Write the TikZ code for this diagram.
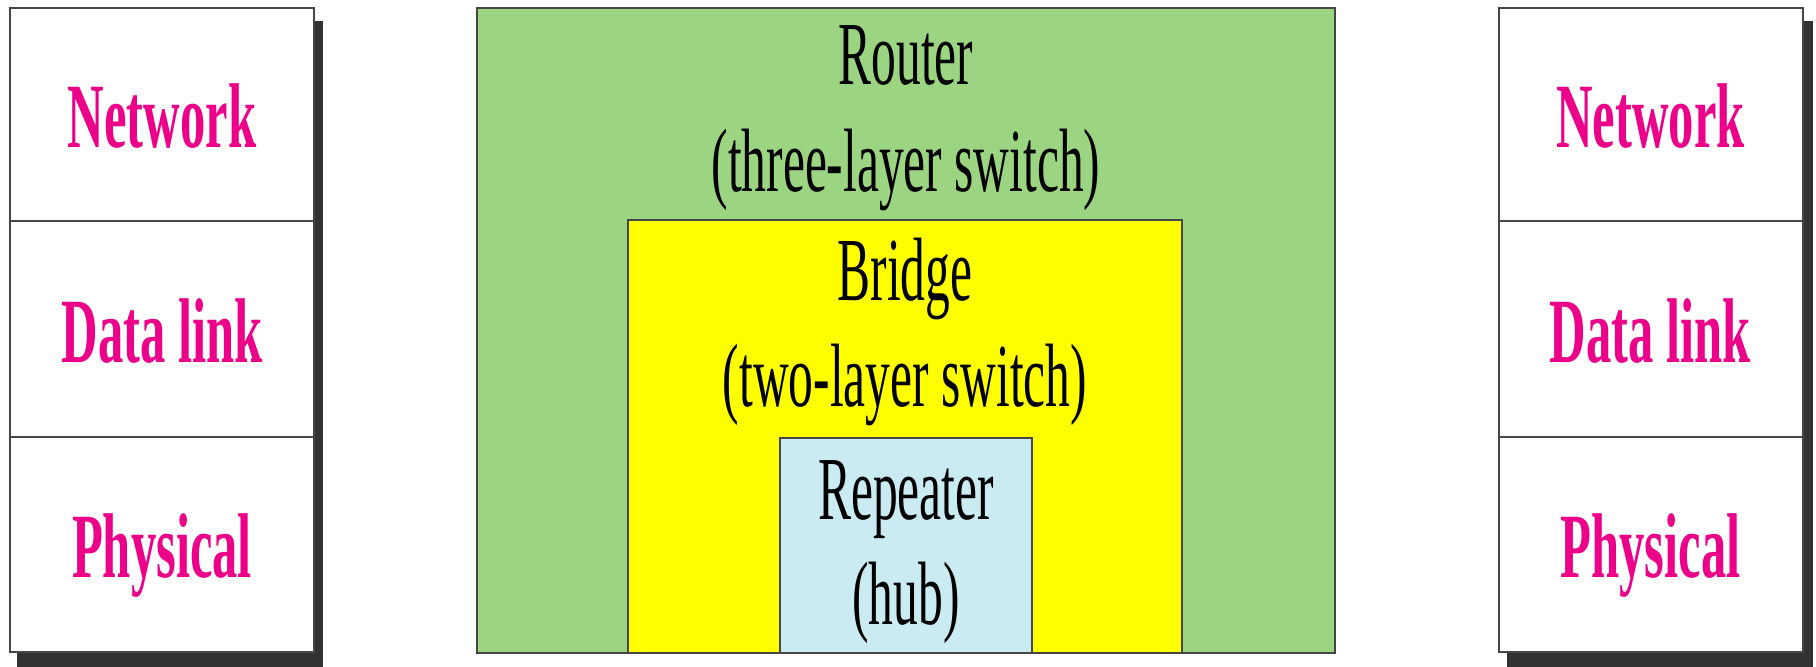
\documentclass[tikz,border=0pt]{standalone}
\usepackage{fontspec}
\setmainfont[FakeStretch=0.55]{Liberation Serif}
\definecolor{edge}{RGB}{70,70,70}
\definecolor{dropshadow}{RGB}{50,50,50}
\definecolor{layertext}{RGB}{236,0,138}
\definecolor{routerfill}{RGB}{155,213,129}
\definecolor{bridgefill}{RGB}{255,255,0}
\definecolor{hubfill}{RGB}{203,235,242}
\begin{document}
\begin{tikzpicture}[x=0.5pt,y=-0.5pt,
  layer/.style={draw=edge, line width=1pt, fill=white, inner sep=0pt,
    minimum width=152pt, text height=33.5pt, text depth=0pt,
    font=\fontsize{46}{53}\selectfont\bfseries, text=layertext},
  device/.style={draw=edge, line width=1pt, inner sep=0pt},
  lbl/.style={anchor=base, inner sep=0pt, font=\fontsize{45}{53}\selectfont}]
\useasboundingbox (0,0) rectangle (1816,667);

% drop shadows behind the two protocol stacks
\fill[dropshadow] (17,21) rectangle (323,667);
\fill[dropshadow] (1507,21) rectangle (1813,667);

% left protocol stack
\node[layer, minimum height=106.5pt] (lnet)  at (162,114.5) {Network};
\node[layer, minimum height=108pt]   (ldata) at (162,329)   {Data link};
\node[layer, minimum height=107.5pt] (lphy)  at (162,544.5) {Physical};

% right protocol stack
\node[layer, minimum height=106.5pt] (rnet)  at (1650.5,114.5) {Network};
\node[layer, minimum height=108pt]   (rdata) at (1650.5,329)   {Data link};
\node[layer, minimum height=107.5pt] (rphy)  at (1650.5,544.5) {Physical};

% nested connecting devices
\node[device, fill=routerfill, minimum width=429pt, minimum height=322.5pt] (router) at (906,330.5) {};
\node[device, fill=bridgefill, minimum width=277pt, minimum height=216.5pt] (bridge) at (905,436.5) {};
\node[device, fill=hubfill, minimum width=126pt, minimum height=107.5pt] (hub) at (906,545.5) {};

% device labels
\node[lbl] (routername) at (906,85)  {Router};
\node[lbl] (routernote) at (906,192) {(three-layer switch)};
\node[lbl] (bridgename) at (905,301) {Bridge};
\node[lbl] (bridgenote) at (905,407) {(two-layer switch)};
\node[lbl] (hubname)    at (906,520) {Repeater};
\node[lbl] (hubnote)    at (906,625) {(hub)};
\end{tikzpicture}
\end{document}
